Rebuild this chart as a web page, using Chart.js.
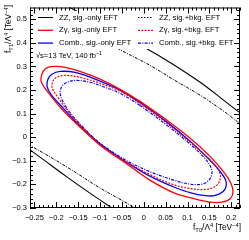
<!DOCTYPE html>
<html>
<head>
<meta charset="utf-8">
<script src="https://cdn.jsdelivr.net/npm/chart.js@4.4.1/dist/chart.umd.min.js"></script>
<style>
  html, body { margin: 0; padding: 0; background: #fff; }
</style>
</head>
<body>
<canvas id="chart" width="249" height="240"></canvas>
<script>
// axis ticks
const xTicks = [-0.25, -0.2, -0.15, -0.1, -0.05, 0, 0.05, 0.1, 0.15, 0.2];
const yTicks = [-0.3, -0.2, -0.1, 0, 0.1, 0.2, 0.3, 0.4, 0.5];

// contours: [fT0, fT1]
const zgSig = [[-0.009, 0.153], [0.053, 0.072], [0.106, -0.004], [0.151, -0.080], [0.183, -0.148], [0.199, -0.194], [0.204, -0.232], [0.197, -0.262], [0.179, -0.275], [0.151, -0.275], [0.110, -0.258], [0.069, -0.236], [0.014, -0.182], [-0.045, -0.105], [-0.100, -0.034], [-0.150, 0.051], [-0.189, 0.123], [-0.219, 0.191], [-0.233, 0.229], [-0.235, 0.250], [-0.230, 0.279], [-0.219, 0.296], [-0.201, 0.300], [-0.180, 0.296], [-0.146, 0.279], [-0.100, 0.246], [-0.054, 0.203], [-0.009, 0.153]];
const combSig = [[-0.009, 0.148], [0.053, 0.064], [0.106, -0.017], [0.147, -0.089], [0.174, -0.144], [0.188, -0.186], [0.186, -0.220], [0.172, -0.241], [0.149, -0.249], [0.110, -0.237], [0.069, -0.211], [0.014, -0.165], [-0.045, -0.099], [-0.100, -0.028], [-0.150, 0.056], [-0.187, 0.129], [-0.212, 0.182], [-0.221, 0.216], [-0.219, 0.246], [-0.210, 0.267], [-0.191, 0.279], [-0.157, 0.275], [-0.111, 0.246], [-0.054, 0.199], [-0.009, 0.148]];
const zgBkg = [[-0.009, 0.144], [0.053, 0.059], [0.106, -0.021], [0.140, -0.076], [0.161, -0.114], [0.174, -0.152], [0.174, -0.182], [0.165, -0.207], [0.147, -0.220], [0.117, -0.220], [0.071, -0.203], [0.014, -0.158], [-0.045, -0.099], [-0.100, -0.031], [-0.141, 0.043], [-0.175, 0.114], [-0.196, 0.169], [-0.207, 0.199], [-0.210, 0.220], [-0.205, 0.246], [-0.194, 0.258], [-0.175, 0.262], [-0.146, 0.254], [-0.100, 0.229], [-0.054, 0.195], [-0.009, 0.144]];
const combBkg = [[-0.009, 0.136], [0.053, 0.051], [0.106, -0.029], [0.135, -0.080], [0.151, -0.118], [0.156, -0.152], [0.149, -0.182], [0.133, -0.199], [0.106, -0.199], [0.069, -0.182], [0.014, -0.146], [-0.045, -0.093], [-0.100, -0.025], [-0.139, 0.043], [-0.169, 0.106], [-0.185, 0.152], [-0.191, 0.186], [-0.187, 0.216], [-0.175, 0.233], [-0.155, 0.241], [-0.123, 0.233], [-0.089, 0.212], [-0.054, 0.186], [-0.009, 0.136]];
// ZZ contours only partly inside the frame
const zzSigUp = [[-0.173, 0.554], [-0.089, 0.470], [0.005, 0.377], [0.060, 0.317], [0.129, 0.233], [0.186, 0.152], [0.227, 0.093]];
const zzSigLow = [[-0.265, -0.050], [-0.253, -0.063], [-0.175, -0.169], [-0.123, -0.237], [-0.066, -0.308]];
const zzBkgUp = [[-0.100, 0.419], [-0.068, 0.385], [-0.043, 0.360], [0.014, 0.305], [0.071, 0.241], [0.129, 0.178], [0.186, 0.106], [0.227, 0.047]];
const zzBkgLow = [[-0.265, -0.034], [-0.253, -0.042], [-0.175, -0.127], [-0.100, -0.215], [-0.043, -0.275], [-0.009, -0.313]];

const FONT = '"Liberation Sans", Arial, sans-serif';
const RED = '#ff0000', BLUE = '#0000ff', BLACK = '#000000';
const DASH = [2, 1.3], DASHDOT = [3, 1.3, 1, 1.3], DOTS = [1.5, 1.5];

function line(pts, color, width, dash) {
  return {
    data: pts.map(p => ({ x: p[0], y: p[1] })),
    showLine: true, borderColor: color, borderWidth: width, borderDash: dash || [],
    pointRadius: 0, tension: 0.35, fill: false, clip: 0
  };
}

function fmt(v) {
  if (v === 0) return '0';
  return (v < 0 ? '\u2212' : '') + String(Math.abs(v));
}

// text with sub/superscripts
function drawRich(ctx, parts, x, y, size, alignRight) {
  const w = parts.reduce((s, p) => {
    ctx.font = (p[1] ? size * 0.7 : size) + 'px ' + FONT;
    return s + ctx.measureText(p[0]).width;
  }, 0);
  let cx = alignRight ? x - w : x;
  parts.forEach(p => {
    const fs = p[1] ? size * 0.7 : size;
    const dy = p[1] === 'sub' ? size * 0.28 : p[1] === 'sup' ? -size * 0.38 : 0;
    ctx.font = fs + 'px ' + FONT;
    ctx.fillText(p[0], cx, y + dy);
    cx += ctx.measureText(p[0]).width;
  });
}

const legendItems = [
  { label: 'ZZ, sig.-only EFT', color: BLACK, w: 1, dash: [], col: 0, row: 0 },
  { label: 'Z\u03b3, sig.-only EFT', color: RED, w: 1.3, dash: [], col: 0, row: 1 },
  { label: 'Comb., sig.-only EFT', color: BLUE, w: 1.3, dash: [], col: 0, row: 2 },
  { label: 'ZZ, sig.+bkg. EFT', color: BLACK, w: 1, dash: DOTS, col: 1, row: 0 },
  { label: 'Z\u03b3, sig.+bkg. EFT', color: RED, w: 1.3, dash: DASH, col: 1, row: 1 },
  { label: 'Comb., sig.+bkg. EFT', color: BLUE, w: 1.3, dash: DASHDOT, col: 1, row: 2 }
];

const decor = {
  id: 'decor',
  afterDraw(chart) {
    const ctx = chart.ctx, a = chart.chartArea;
    const xs = chart.scales.x, ys = chart.scales.y;
    ctx.save();
    // legend box covers the curves
    ctx.fillStyle = '#fff';
    ctx.fillRect(32, 11, 204, 38);
    ctx.textBaseline = 'middle';
    ctx.fillStyle = '#000';
    legendItems.forEach(it => {
      const lx = it.col ? 138 : 38, ty = 17.5 + it.row * 12.8;
      ctx.beginPath();
      ctx.strokeStyle = it.color; ctx.lineWidth = it.w; ctx.setLineDash(it.dash);
      ctx.moveTo(lx, ty); ctx.lineTo(lx + 15, ty); ctx.stroke();
      ctx.font = '7.7px ' + FONT;
      ctx.fillText(it.label, lx + 21, ty);
    });
    ctx.setLineDash([]);
    ctx.textBaseline = 'alphabetic';
    drawRich(ctx, [['\u221as=13 TeV, 140 fb'], ['\u22121', 'sup']], 36, 58, 7.5);

    // frame and inward ticks
    ctx.strokeStyle = '#000'; ctx.lineWidth = 1;
    ctx.strokeRect(a.left + 0.5, a.top + 0.5, a.right - a.left - 1, a.bottom - a.top - 1);
    ctx.beginPath();
    for (let i = -26; i <= 22; i++) {
      const v = i / 100, px = Math.round(xs.getPixelForValue(v)) + 0.5;
      const len = (i % 5 === 0) ? 6 : 3;
      ctx.moveTo(px, a.bottom); ctx.lineTo(px, a.bottom - len);
      ctx.moveTo(px, a.top); ctx.lineTo(px, a.top + len);
    }
    for (let i = -15; i <= 27; i++) {
      const v = i / 50, py = Math.round(ys.getPixelForValue(v)) + 0.5;
      const len = (i % 5 === 0) ? 6 : 3;
      ctx.moveTo(a.left, py); ctx.lineTo(a.left + len, py);
      ctx.moveTo(a.right, py); ctx.lineTo(a.right - len, py);
    }
    ctx.stroke();

    // axis titles
    drawRich(ctx, [['f'], ['T0', 'sub'], ['/\u039b'], ['4', 'sup'], [' [TeV'], ['\u22124', 'sup'], [']']], 241, 230, 8.3, true);
    ctx.translate(11, 5);
    ctx.rotate(-Math.PI / 2);
    drawRich(ctx, [['f'], ['T1', 'sub'], ['/\u039b'], ['4', 'sup'], [' [TeV'], ['\u22124', 'sup'], [']']], 0, 0, 8.3, true);
    ctx.restore();
  }
};

new Chart(document.getElementById('chart'), {
  type: 'scatter',
  data: {
    datasets: [
      line(zzSigUp, BLACK, 1.1),
      line(zzSigLow, BLACK, 1.1),
      line(zzBkgUp, BLACK, 1, DASHDOT),
      line(zzBkgLow, BLACK, 1, DASHDOT),
      line(zgBkg, RED, 1.2, DASH),
      line(combBkg, BLUE, 1.2, DASHDOT),
      line(zgSig, RED, 1.3),
      line(combSig, BLUE, 1.3)
    ]
  },
  options: {
    responsive: false,
    animation: false,
    layout: { padding: { top: 7, right: 9, left: 0, bottom: 0 } },
    plugins: { legend: { display: false }, tooltip: { enabled: false } },
    scales: {
      x: {
        type: 'linear', min: -0.26, max: 0.22,
        grid: { display: false, drawTicks: false }, border: { display: false },
        afterBuildTicks: s => { s.ticks = xTicks.map(v => ({ value: v })); },
        afterFit: s => { s.height = 32; },
        ticks: { autoSkip: false, maxRotation: 0, padding: 5, color: '#000', font: { family: FONT, size: 7.5 }, callback: v => fmt(v) }
      },
      y: {
        type: 'linear', min: -0.3, max: 0.55,
        grid: { display: false, drawTicks: false }, border: { display: false },
        afterBuildTicks: s => { s.ticks = yTicks.map(v => ({ value: v })); },
        afterFit: s => { s.width = 30; },
        ticks: { autoSkip: false, padding: 3, color: '#000', font: { family: FONT, size: 7.5 }, callback: v => fmt(v) }
      }
    }
  },
  plugins: [decor]
});
</script>
</body>
</html>
